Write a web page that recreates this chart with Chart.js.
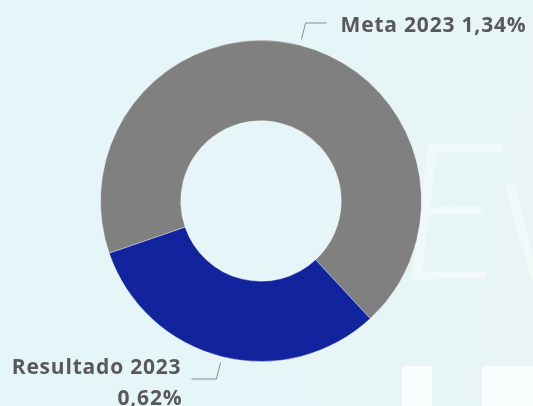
<!DOCTYPE html>
<html>
<head>
<meta charset="utf-8">
<script src="https://cdn.jsdelivr.net/npm/chart.js@4.4.0/dist/chart.umd.min.js"></script>
<style>
  html, body { margin: 0; padding: 0; }
  body {
    width: 533px; height: 406px; overflow: hidden; position: relative;
    background: linear-gradient(100deg, #e4f6fa 0%, #e6f5f7 60%, #e9f5f4 100%);
  }
  .wm { position: absolute; background: rgba(255,255,255,0.7); }
  .script {
    position: absolute; left: 400px; top: 110px;
    font: italic 300 190px "Lato", sans-serif;
    color: rgba(255,255,255,0.4);
    line-height: 1;
  }
  #wrap { position: absolute; left: 0; top: 0; width: 533px; height: 406px; }
</style>
</head>
<body>
<div class="script">Ev</div>
<div class="wm" style="left:402px;top:366px;width:30px;height:40px;"></div>
<div class="wm" style="left:482px;top:366px;width:51px;height:40px;"></div>
<div id="wrap"><canvas id="chart1"></canvas></div>
<script>
const categories = ['Meta 2023', 'Resultado 2023'];
const values = [1.34, 0.62];
const valueLabels = ['1,34%', '0,62%'];
const colors = ['#808080', '#12239e'];

// outside labels with leader lines, like the Power BI donut
const outsideLabels = {
  id: 'outsideLabels',
  afterDatasetsDraw(chart) {
    const ctx = chart.ctx;
    const arcs = chart.getDatasetMeta(0).data;
    ctx.save();
    ctx.font = 'bold 21px "Open Sans", sans-serif';
    ctx.letterSpacing = '0.8px';
    ctx.fillStyle = '#595959';
    ctx.strokeStyle = '#8c8c8c';
    ctx.lineWidth = 1;
    ctx.textBaseline = 'alphabetic';
    arcs.forEach((arc, i) => {
      const p = arc.getProps(['x', 'y', 'startAngle', 'endAngle', 'outerRadius'], true);
      const mid = (p.startAngle + p.endAngle) / 2;
      const r0 = p.outerRadius + 6;
      const r1 = p.outerRadius + 23;
      const x0 = p.x + Math.cos(mid) * r0, y0 = p.y + Math.sin(mid) * r0;
      const x1 = p.x + Math.cos(mid) * r1, y1 = p.y + Math.sin(mid) * r1;
      const right = Math.cos(mid) >= 0;
      const x2 = x1 + (right ? 21 : -25);
      ctx.beginPath();
      ctx.moveTo(x0, y0);
      ctx.lineTo(x1, y1);
      ctx.lineTo(x2, y1);
      ctx.stroke();
      if (right) {
        ctx.textAlign = 'left';
        ctx.fillText(categories[i] + ' ' + valueLabels[i], x2 + 14, y1 + 9);
      } else {
        ctx.textAlign = 'right';
        ctx.fillText(categories[i], x2 - 10, y1 - 5);
        ctx.fillText(valueLabels[i], x2 - 9, y1 + 26);
      }
    });
    ctx.restore();
  }
};

function renderChart() {
  const ctx1 = document.getElementById('chart1');
  new Chart(ctx1, {
    type: 'doughnut',
    data: {
      labels: categories,
      datasets: [{
        data: values,
        backgroundColor: colors,
        borderColor: 'rgba(255,255,255,0.35)',
        borderWidth: 1
      }]
    },
    options: {
      responsive: true,
      maintainAspectRatio: false,
      animation: false,
      cutout: '50%',
      rotation: 251,
      layout: { padding: { left: 100, right: 111, top: 40, bottom: 44 } },
      plugins: {
        legend: { display: false },
        tooltip: { enabled: false }
      }
    },
    plugins: [outsideLabels]
  });
}
renderChart();
</script>
</body>
</html>
